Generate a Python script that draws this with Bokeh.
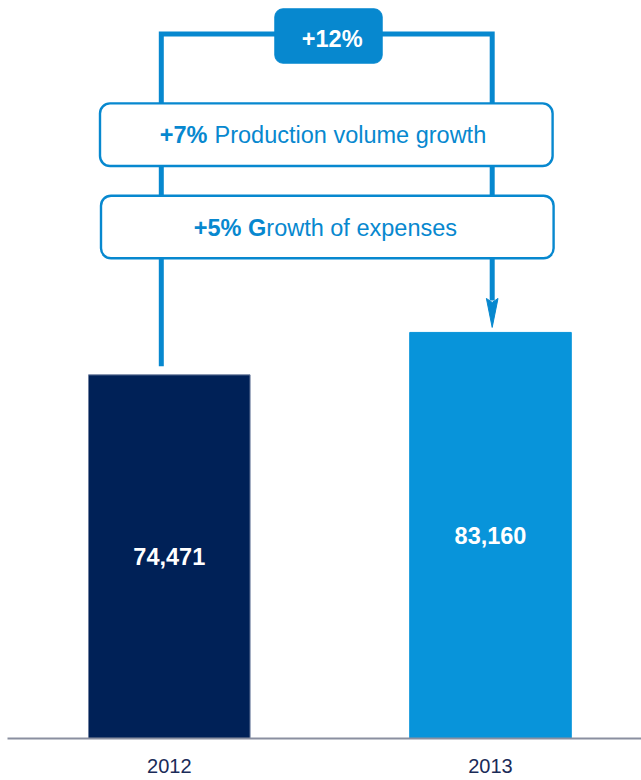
from bokeh.plotting import figure
from bokeh.models import Range1d, FixedTicker, BoxAnnotation, Label, ColumnDataSource
from bokeh.core.properties import value
from bokeh.embed import file_html
from bokeh.resources import INLINE

# ---- data ----
years = ["2012", "2013"]
costs = [74471, 83160]
bar_colors = ["#002157", "#0894da"]
bar_edges = ["#6f7f9f", "#0894da"]
total_change = "+12%"
factor_bold = ["+7%", "+5% G"]
factor_rest = ["Production volume growth", "rowth of expenses"]

# ---- styles ----
FONT = "Liberation Sans"
LINE_BLUE = "#0788cf"
BOX_BLUE = "#0788cf"
AXIS_GREY = "#8a8fa0"
YEAR_COLOR = "#1a2b58"
FS = "23.5px"

LEFT = 7
FW, FH = 634, 738
X_START, X_END = -0.5037, 1.4701
Y_END = 151135
PXY = Y_END / FH          # data units per vertical pixel


def dx(X):
    return X_START + (X - LEFT) / FW * (X_END - X_START)


def dy(Y):
    return (FH - Y) / FH * Y_END


p = figure(frame_width=FW, frame_height=FH,
           x_range=Range1d(X_START, X_END), y_range=Range1d(0, Y_END),
           output_backend="svg", toolbar_location=None,
           y_axis_location=None, min_border=0, min_border_left=LEFT,
           outline_line_color=None)
p.xgrid.visible = False
p.ygrid.visible = False

idx = list(range(len(years)))
src = ColumnDataSource(dict(x=idx, top=costs, color=bar_colors, edge=bar_edges,
                            mid=[v / 2 for v in costs],
                            label=[f"{v:,}" for v in costs]))

p.vbar(x="x", top="top", width=0.503, fill_color="color", line_color="edge",
       line_width=1, source=src)
p.text(x="x", y="mid", text="label", source=src, text_align="center",
       text_baseline="middle", text_color="white", text_font=value(FONT),
       text_font_style="bold", text_font_size=FS)

# x axis
ax = p.xaxis[0]
ax.ticker = FixedTicker(ticks=idx)
ax.major_label_overrides = {i: y for i, y in zip(idx, years)}
ax.axis_line_color = AXIS_GREY
ax.axis_line_width = 2
ax.major_tick_line_color = None
ax.minor_tick_line_color = None
ax.major_label_text_font = FONT
ax.major_label_text_font_size = "20px"
ax.major_label_text_color = YEAR_COLOR
ax.major_label_standoff = 14

# connector
xl, xr, ytop = dx(160.8), dx(491.7), dy(33.5)
left_bottom = costs[0] + 8.6 * PXY
tip = costs[1] + 5 * PXY
head_base = tip + 29 * PXY
p.line(x=[xl, xl, xr, xr], y=[left_bottom, ytop, ytop, head_base - 2 * PXY],
       line_width=5, line_color=LINE_BLUE, line_join="miter")
hw = 5.8 / FW * (X_END - X_START)
p.patch(x=[xr - hw, xr, xr + hw, xr], y=[head_base, head_base - 4 * PXY, head_base, tip],
        fill_color=LINE_BLUE, line_color=LINE_BLUE, line_width=1)

# boxes
p.add_layout(BoxAnnotation(left=dx(274.3), right=dx(381.7), top=dy(8.3), bottom=dy(62.7),
                           fill_color=BOX_BLUE, fill_alpha=1, line_color=BOX_BLUE,
                           line_alpha=1, line_width=1, border_radius=8))
p.add_layout(BoxAnnotation(left=dx(99.5), right=dx(552.1), top=dy(102.9), bottom=dy(165.5),
                           fill_color="white", fill_alpha=1, line_color=LINE_BLUE,
                           line_alpha=1, line_width=2.4, border_radius=10))
p.add_layout(BoxAnnotation(left=dx(100.5), right=dx(553.1), top=dy(195.2), bottom=dy(257.8),
                           fill_color="white", fill_alpha=1, line_color=LINE_BLUE,
                           line_alpha=1, line_width=2.4, border_radius=10))

# texts (baseline positions, corrected for renderer offset)
SHIFT = 8.5
p.add_layout(Label(x=dx(331.7), y=dy(46.7 - SHIFT), text=total_change, text_align="center",
                   text_baseline="alphabetic", text_color="white", text_font=FONT,
                   text_font_style="bold", text_font_size=FS))
starts_bold = [159.3, 193.3]
starts_rest = [214.0, 265.8]
baselines = [143.3, 236.0]
for b, r, xb, xr_, yb in zip(factor_bold, factor_rest, starts_bold, starts_rest, baselines):
    p.add_layout(Label(x=dx(xb), y=dy(yb - SHIFT), text=b, text_align="left",
                       text_baseline="alphabetic", text_color=LINE_BLUE, text_font=FONT,
                       text_font_style="bold", text_font_size=FS))
    p.add_layout(Label(x=dx(xr_), y=dy(yb - SHIFT), text=r, text_align="left",
                       text_baseline="alphabetic", text_color=LINE_BLUE, text_font=FONT,
                       text_font_style="normal", text_font_size=FS))

open("out.html", "w").write(file_html(p, INLINE, title="Costs"))
